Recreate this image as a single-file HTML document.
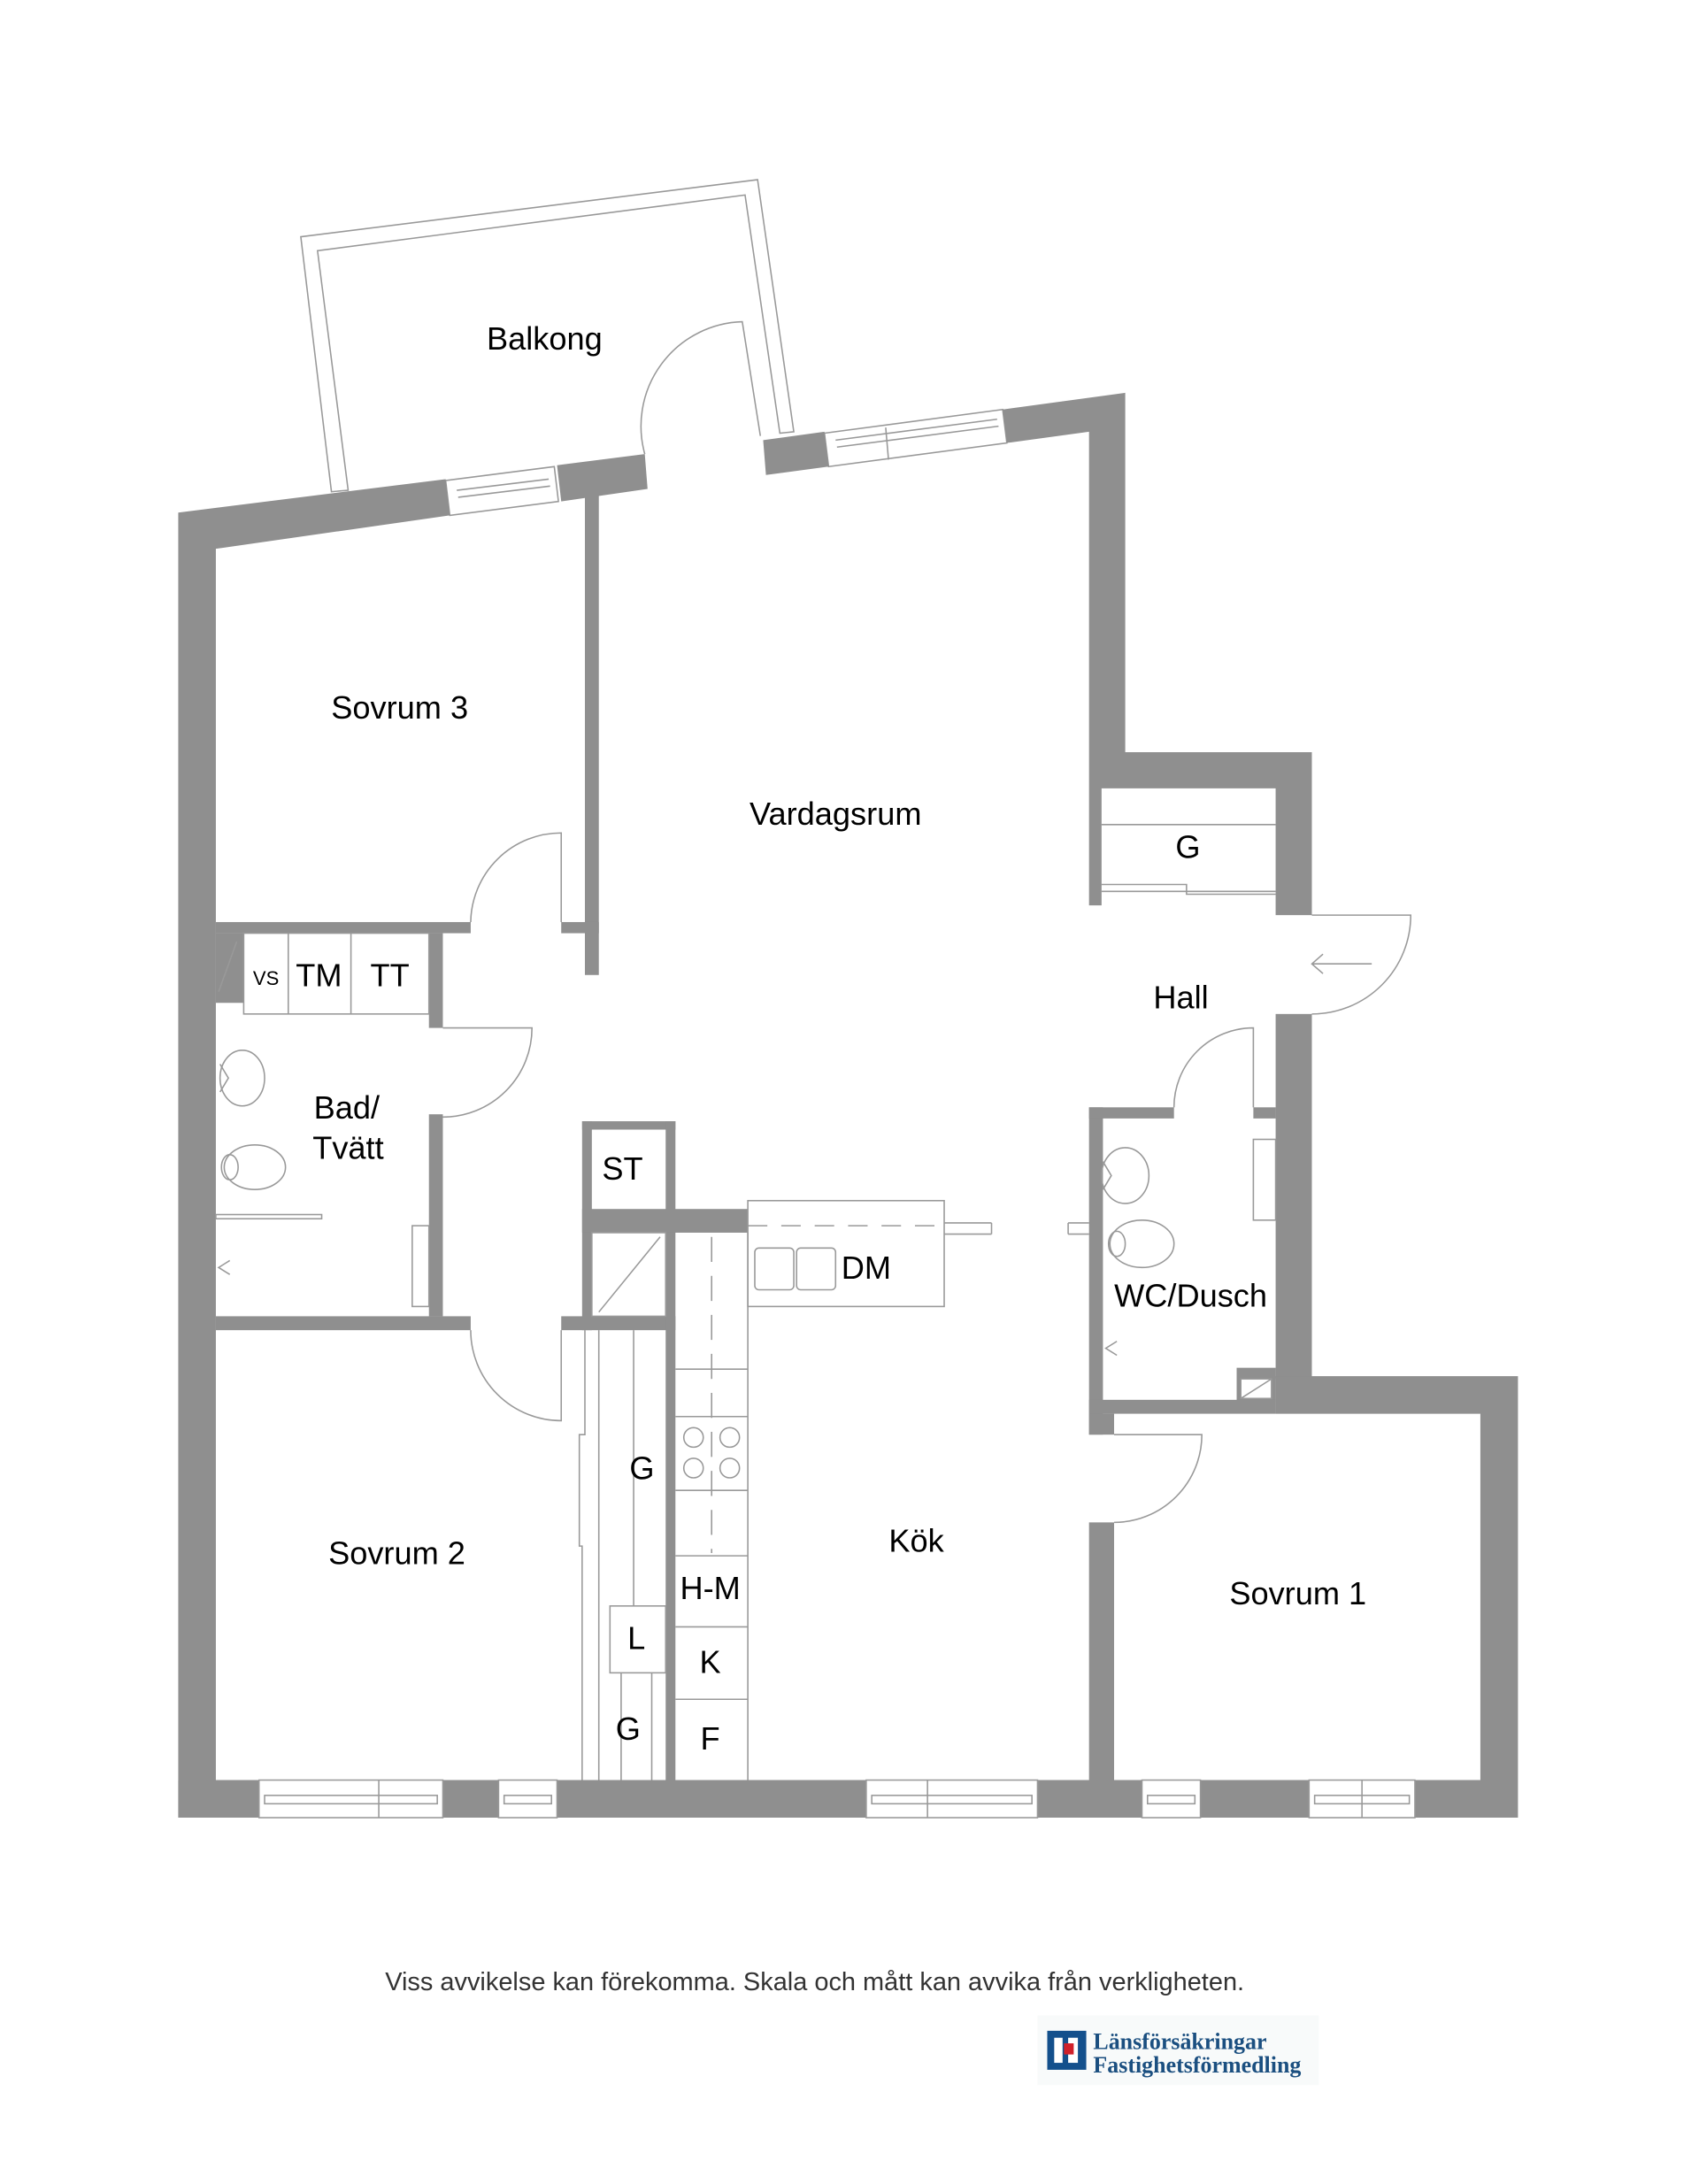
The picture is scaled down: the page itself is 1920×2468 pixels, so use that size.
<!DOCTYPE html>
<html><head><meta charset="utf-8"><style>
html,body{margin:0;padding:0;background:#fff}
svg{display:block}
text{font-family:"Liberation Sans",Arial,sans-serif;fill:#000}
</style></head><body>
<svg width="1920" height="2468" viewBox="0 0 1220 1568" preserveAspectRatio="none" xmlns="http://www.w3.org/2000/svg">
<rect width="1220" height="1568" fill="#fff"/>
<g fill="none" stroke="#999" stroke-width="1">
<polygon points="216,170 544,129 570,310 560,311 535,140 228,180 250,352 238,353"/>
<polygon points="320,345 398,335 401,360 323,370" fill="#fff"/>
<line x1="328" y1="352" x2="394" y2="344"/><line x1="329" y1="357" x2="395" y2="349"/>
<polygon points="592,311 720,294 723,318 595,335" fill="#fff"/>
<line x1="600" y1="316" x2="716" y2="301"/><line x1="601" y1="321" x2="717" y2="306"/><line x1="636" y1="307" x2="638" y2="330"/>
</g>
<g fill="#8f8f8f">
<polygon points="128,368 320,344 323,370 155,394 155,1278 128,1305"/>
<polygon points="400,334 463,326 465,351 403,360"/>
<polygon points="548,316 592,310 595,335 550,341"/>
<polygon points="720,294 808,282 808,540 942,540 942,657 916,657 916,566 808,566 791,566 791,650 782,650 782,310 723,318"/>
<rect x="916" y="728" width="26" height="262"/>
<polygon points="916,988 1090,988 1090,1305 128,1305 128,1278 1063,1278 1063,1015 916,1015"/>
<rect x="420" y="355" width="10" height="345"/>
<rect x="403" y="662" width="27" height="8"/>
<rect x="155" y="662" width="183" height="8"/>
<rect x="155" y="670" width="20" height="50"/>
<rect x="308" y="670" width="10" height="68"/>
<rect x="308" y="800" width="10" height="145"/>
<rect x="155" y="945" width="183" height="10"/>
<rect x="403" y="945" width="82" height="10"/>
<rect x="418" y="805" width="67" height="6"/>
<rect x="418" y="805" width="7" height="150"/>
<rect x="478" y="805" width="7" height="473"/>
<rect x="418" y="868" width="119" height="17"/>
<rect x="782" y="795" width="10" height="235"/>
<rect x="782" y="795" width="61" height="8"/>
<rect x="900" y="795" width="16" height="8"/>
<rect x="888" y="982" width="28" height="24"/>
<rect x="782" y="1005" width="134" height="10"/>
<rect x="782" y="1015" width="18" height="15"/>
<rect x="782" y="1093" width="18" height="185"/>
</g>
<g fill="#fff" stroke="#999" stroke-width="1">
<rect x="186" y="1278" width="132" height="27"/><rect x="358" y="1278" width="42" height="27"/>
<rect x="622" y="1278" width="123" height="27"/><rect x="820" y="1278" width="42" height="27"/>
<rect x="940" y="1278" width="76" height="27"/>
<rect x="190" y="1289" width="124" height="6"/><rect x="362" y="1289" width="34" height="6"/>
<rect x="626" y="1289" width="115" height="6"/><rect x="824" y="1289" width="34" height="6"/>
<rect x="944" y="1289" width="68" height="6"/>
<line x1="272" y1="1278" x2="272" y2="1305"/><line x1="666" y1="1278" x2="666" y2="1305"/><line x1="978" y1="1278" x2="978" y2="1305"/>
<rect x="891" y="990" width="22" height="14"/>
</g>
<g fill="none" stroke="#999" stroke-width="1">
<line x1="891" y1="1004" x2="913" y2="990"/>
<path d="M463,326 A75,75 0 0 1 533,231 L546,313"/>
<path d="M338,662 A65,65 0 0 1 403,598 L403,662"/>
<path d="M318,738 L382,738 A64,64 0 0 1 318,802"/>
<path d="M338,955 A65,65 0 0 0 403,1020 L403,955"/>
<path d="M942,657 L1013,657 A71,71 0 0 1 942,728"/>
<line x1="942" y1="692" x2="985" y2="692"/><polyline points="950,685 942,692 950,699"/>
<path d="M843,795 A57,57 0 0 1 900,738 L900,795"/>
<path d="M800,1030 L863,1030 A63,63 0 0 1 800,1093"/>
<line x1="791" y1="592" x2="916" y2="592"/>
<polyline points="791,635 852,635 852,642 916,642"/><line x1="791" y1="640" x2="916" y2="640"/>
<rect x="175" y="670" width="133" height="58"/>
<line x1="207" y1="670" x2="207" y2="728"/><line x1="252" y1="670" x2="252" y2="728"/>
<line x1="157" y1="712" x2="170" y2="676"/>
<ellipse cx="174" cy="774" rx="16" ry="20"/><path d="M158,764 L164,774 L158,784"/>
<ellipse cx="183" cy="838" rx="22" ry="16"/><ellipse cx="165" cy="838" rx="6" ry="9"/>
<rect x="155" y="872" width="76" height="3"/>
<rect x="296" y="880" width="12" height="58"/>
<polyline points="165,905 157,910 165,915"/>
<rect x="425" y="885" width="53" height="60"/><line x1="430" y1="942" x2="474" y2="888"/>
<rect x="537" y="862" width="141" height="76"/>
<line x1="537" y1="880" x2="678" y2="880" stroke-dasharray="14,10"/>
<line x1="678" y1="878" x2="712" y2="878"/><line x1="678" y1="886" x2="712" y2="886"/><line x1="712" y1="878" x2="712" y2="886"/>
<line x1="767" y1="878" x2="782" y2="878"/><line x1="767" y1="886" x2="782" y2="886"/><line x1="767" y1="878" x2="767" y2="886"/>
<rect x="542" y="896" width="28" height="30" rx="3"/><rect x="572" y="896" width="28" height="30" rx="3"/>
<line x1="537" y1="885" x2="537" y2="1278"/>
<line x1="511" y1="888" x2="511" y2="1115" stroke-dasharray="18,10"/>
<line x1="485" y1="983" x2="537" y2="983"/><line x1="485" y1="1017" x2="537" y2="1017"/><line x1="485" y1="1070" x2="537" y2="1070"/>
<line x1="485" y1="1117" x2="537" y2="1117"/><line x1="485" y1="1168" x2="537" y2="1168"/><line x1="485" y1="1220" x2="537" y2="1220"/>
<circle cx="498" cy="1032" r="7"/><circle cx="524" cy="1032" r="7"/><circle cx="498" cy="1054" r="7"/><circle cx="524" cy="1054" r="7"/>
<polyline points="420,955 420,1030 416,1030 416,1110 418,1110 418,1278"/>
<line x1="430" y1="955" x2="430" y2="1278"/>
<line x1="455" y1="955" x2="455" y2="1153"/>
<rect x="438" y="1153" width="40" height="48"/>
<line x1="468" y1="1201" x2="468" y2="1278"/>
<line x1="446" y1="1201" x2="446" y2="1278"/>
<ellipse cx="808" cy="844" rx="17" ry="20"/><path d="M792,834 L798,844 L792,854"/>
<ellipse cx="820" cy="893" rx="23" ry="17"/><ellipse cx="802" cy="893" rx="6" ry="9"/>
<rect x="900" y="818" width="16" height="58"/>
<polyline points="802,963 794,968 802,973"/>
</g>
<g font-size="23" text-anchor="middle">
<text x="391" y="251">Balkong</text>
<text x="287" y="516">Sovrum 3</text>
<text x="600" y="592">Vardagsrum</text>
<text x="853" y="616">G</text>
<text x="848" y="724">Hall</text>
<text x="229" y="708">TM</text>
<text x="280" y="708">TT</text>
<text x="191" y="707" font-size="14">VS</text>
<text x="249" y="803">Bad/</text>
<text x="250" y="832">Tvätt</text>
<text x="447" y="847">ST</text>
<text x="622" y="918">DM</text>
<text x="855" y="938">WC/Dusch</text>
<text x="461" y="1062">G</text>
<text x="285" y="1123">Sovrum 2</text>
<text x="658" y="1114">Kök</text>
<text x="932" y="1152">Sovrum 1</text>
<text x="510" y="1148">H-M</text>
<text x="457" y="1184">L</text>
<text x="510" y="1201">K</text>
<text x="451" y="1249">G</text>
<text x="510" y="1256">F</text>
<text x="585" y="1429" font-size="18.4" style="fill:#333">Viss avvikelse kan förekomma. Skala och mått kan avvika från verkligheten.</text>
</g>
<rect x="745" y="1447" width="202" height="50" fill="#f8fafa"/>
<rect x="752" y="1458" width="28" height="28" fill="#14508c"/>
<rect x="757" y="1463" width="6" height="18" fill="#fff"/>
<rect x="767" y="1463" width="7" height="18" fill="#fff"/>
<rect x="764" y="1467" width="7" height="8" fill="#d0202a"/>
<text x="785" y="1471" font-weight="bold" font-size="16.5" style="fill:#1b4f80;font-family:'Liberation Serif',serif">Länsförsäkringar</text>
<text x="785" y="1488" font-weight="bold" font-size="16.5" style="fill:#1b4f80;font-family:'Liberation Serif',serif">Fastighetsförmedling</text>
</svg>
</body></html>
